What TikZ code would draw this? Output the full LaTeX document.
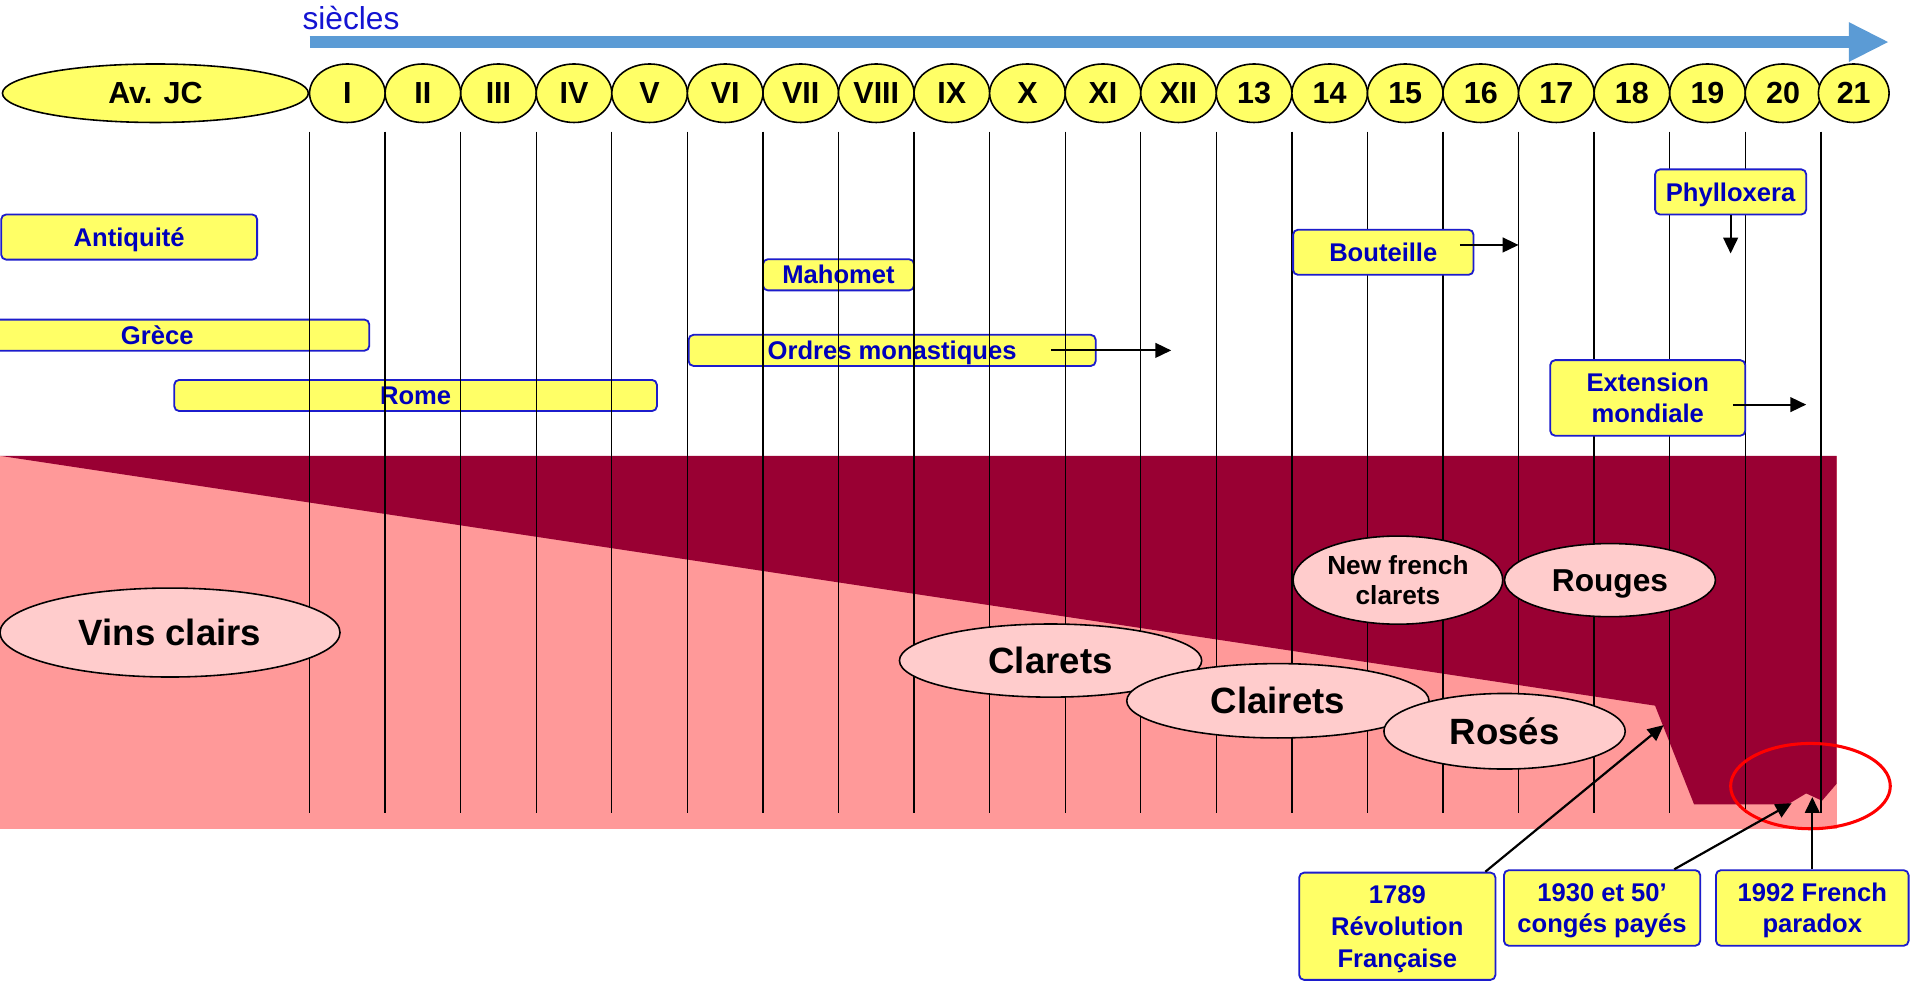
\documentclass[tikz,border=0pt]{standalone}
\usepackage{fontspec}
\setmainfont{Liberation Sans}
\usetikzlibrary{arrows.meta,shapes.geometric}
\definecolor{ylw}{HTML}{FFFF66}
\definecolor{bbord}{HTML}{1C1CCC}
\definecolor{btext}{HTML}{0000BB}
\definecolor{sblue}{HTML}{1414D2}
\definecolor{abl}{HTML}{5B9BD5}
\definecolor{pinkbg}{HTML}{FF9999}
\definecolor{winec}{HTML}{990033}
\definecolor{lpink}{HTML}{FFCCCC}
\newcommand\myup{\rule{0pt}{0.966em}}
\newcommand\mydn{\rule[-0.25em]{0pt}{0.25em}}
\tikzset{
 balanced/.style={execute at begin node={\myup}, execute at end node={\mydn}},
 hdr/.style={ellipse, draw=black, line width=1.3pt, fill=ylw, inner sep=0pt, minimum height=48pt, font=\fontsize{25}{30}\selectfont\bfseries},
 lbl/.style={rectangle, rounded corners=4pt, draw=bbord, line width=1.5pt, fill=ylw, text=btext, inner sep=0pt, align=center, balanced, font=\fontsize{21}{26}\selectfont\bfseries},
 winelbl/.style={ellipse, draw=black, line width=1.3pt, fill=lpink, inner sep=0pt, align=center, balanced, font=\fontsize{30}{34}\selectfont\bfseries},
 arr/.style={line width=1.8pt, -{Triangle[length=13pt,width=12pt]}},
 vline/.style={line width=1.1pt}
}
\begin{document}
\begin{tikzpicture}[x=1pt,y=-1pt]
\clip (0,0) rectangle (1568,810);
\fill[white] (0,0) rectangle (1568,810);
% background areas
\fill[pinkbg] (0,374) rectangle (1507,680);
\fill[winec] (0,374) -- (1507,374) -- (1507,643) -- (1495,657) -- (1482,651) -- (1467,660) -- (1390,660) -- (1358,579) -- cycle;
% left label boxes (under the lines)
\node[lbl, minimum width=210pt, minimum height=37pt] (antiq) at (106,194.5) {Antiquité};
\node[lbl, minimum width=348pt, minimum height=24pt] (grece) at (129,275) {Grèce};
\node[lbl, minimum width=396pt, minimum height=25pt] (rome) at (341,324.5) {Rome};
\node[lbl, minimum width=124pt, minimum height=25pt] (mahomet) at (688,225.5) {Mahomet};
\node[lbl, minimum width=334pt, minimum height=24pt] (ordres) at (732,287.5) {Ordres monastiques};
% vertical lines
\foreach \k in {0,...,20} {
  \coordinate (vt\k) at ({254+62*\k},108);
  \coordinate (vb\k) at ({254+62*\k},667);
  \draw[vline] (vt\k) -- (vb\k);
}
% siecles arrow
\node[font=\fontsize{26}{30}\selectfont, text=sblue, inner sep=0pt] (siecles) at (288,14.5) {siècles};
\coordinate (axS) at (254,34.5);
\coordinate (axE) at (1550,34.5);
\draw[line width=10pt, abl, -{Triangle[length=33pt,width=30pt]}] (axS) -- (axE);
% header
\node[hdr, minimum width=251pt] (avjc) at (127.5,76.5) {Av. JC};
\foreach \lab [count=\i from 0] in {I,II,III,IV,V,VI,VII,VIII,IX,X,XI,XII,13,14,15,16,17,18,19,20} {
  \node[hdr, minimum width=62pt] (c\i) at ({285+62*\i},76.5) {\lab};
}
\node[hdr, minimum width=58pt] (c20) at (1521,76.5) {21};
% right label boxes
\node[lbl, minimum width=148pt, minimum height=37pt] (bout) at (1135,207) {Bouteille};
\node[lbl, minimum width=124pt, minimum height=37pt] (phyl) at (1420,157.5) {Phylloxera};
\node[lbl, minimum width=160pt, minimum height=62pt] (ext) at (1352,326.5) {\myup Extension\\mondiale\mydn};
% wine ellipses
\node[winelbl, minimum width=279pt, minimum height=73pt] (vins) at (139.5,519) {Vins clairs};
\node[winelbl, minimum width=248pt, minimum height=60pt] (clarets) at (862,542) {Clarets};
\node[winelbl, minimum width=248pt, minimum height=61pt] (clairets) at (1048.5,575) {Clairets};
\node[winelbl, minimum width=198pt, minimum height=62pt] (roses) at (1234.5,600) {Rosés};
\node[winelbl, minimum width=172pt, minimum height=60pt, font=\fontsize{21.5}{25}\selectfont\bfseries] (nfc) at (1147,476) {\myup New french\\clarets\mydn};
\node[winelbl, minimum width=173pt, minimum height=60pt, font=\fontsize{26}{30}\selectfont\bfseries] (rouges) at (1321,476) {Rouges};
% red ellipse
\node[ellipse, draw=red, line width=2.5pt, minimum width=131pt, minimum height=70pt, inner sep=0pt] (paradox) at (1485.5,645) {};
% arrows from the upper boxes
\coordinate (ordresEnd) at (961,287.5);
\draw[arr] ([xshift=-37pt]ordres.east) -- (ordresEnd);
\coordinate (boutEnd) at (1246,201);
\draw[arr] ([xshift=-12pt,yshift=6pt]bout.east) -- (boutEnd);
\coordinate (phylEnd) at (1420,208);
\draw[arr] (phyl.south) -- (phylEnd);
\coordinate (extEnd) at (1482,332);
\draw[arr] ([xshift=-11pt,yshift=-5.5pt]ext.east) -- (extEnd);
% bottom boxes
\node[lbl, minimum width=161pt, minimum height=88pt] (b1789) at (1146.5,760) {\myup 1789\\Révolution\\Française\mydn};
\node[lbl, minimum width=161pt, minimum height=62pt] (b1930) at (1314.5,745) {\myup 1930 et 50’\\congés payés\mydn};
\node[lbl, minimum width=158pt, minimum height=62pt] (b1992) at (1487,745) {\myup 1992 French\\paradox\mydn};
\coordinate (rev) at (1365,595);
\coordinate (cp) at (1470,659);
\coordinate (fp) at (1487,654);
\draw[arr] ([xshift=-9pt]b1789.north east) -- (rev);
\draw[arr] ([xshift=-22pt]b1930.north east) -- (cp);
\draw[arr] (b1992.north) -- (fp);
\end{tikzpicture}
\end{document}
